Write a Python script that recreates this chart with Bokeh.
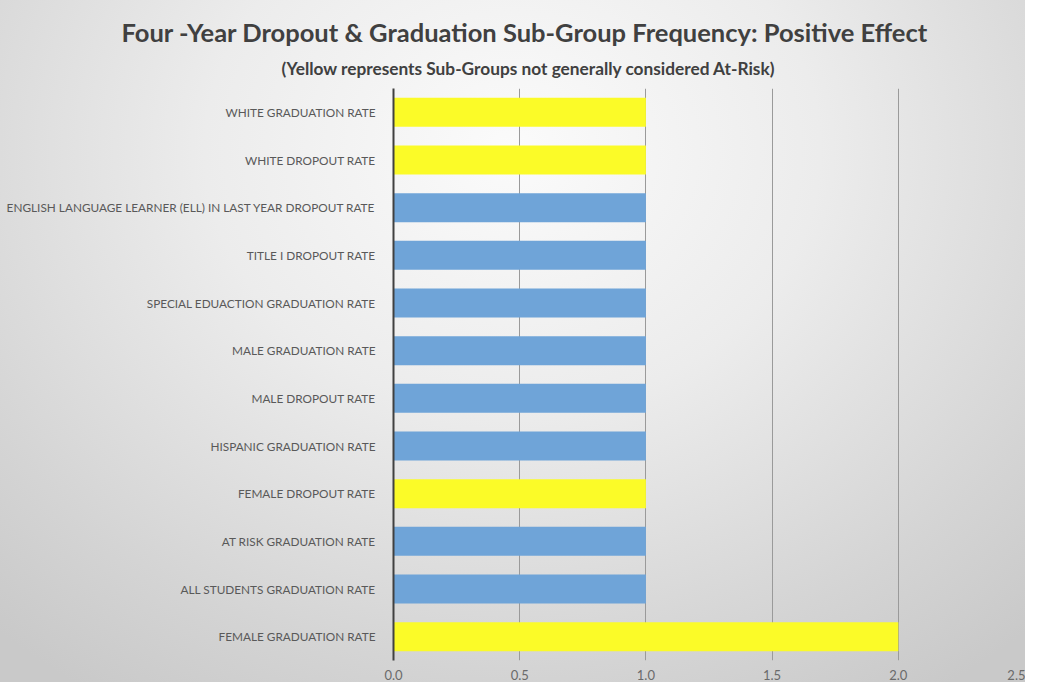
from bokeh.plotting import figure
from bokeh.models import ColumnDataSource, Title, FactorRange, Range1d, FixedTicker, CustomJSTickFormatter
from bokeh.embed import file_html
from bokeh.resources import INLINE

# Data (top to bottom as shown)
categories = [
    "WHITE GRADUATION RATE",
    "WHITE DROPOUT RATE",
    "ENGLISH LANGUAGE LEARNER (ELL) IN LAST YEAR DROPOUT RATE",
    "TITLE I DROPOUT RATE",
    "SPECIAL EDUACTION GRADUATION RATE",
    "MALE GRADUATION RATE",
    "MALE DROPOUT RATE",
    "HISPANIC GRADUATION RATE",
    "FEMALE DROPOUT RATE",
    "AT RISK GRADUATION RATE",
    "ALL STUDENTS GRADUATION RATE",
    "FEMALE GRADUATION RATE",
]
frequency = [1, 1, 1, 1, 1, 1, 1, 1, 1, 1, 1, 2]
not_at_risk = [True, True, False, False, False, False, False, False, True, False, False, True]
x_ticks = [0.0, 0.5, 1.0, 1.5, 2.0, 2.5]

YELLOW = "#fbfb28"
BLUE = "#6fa4d8"
colors = [YELLOW if n else BLUE for n in not_at_risk]

source = ColumnDataSource(dict(cat=categories, val=frequency, color=colors))

FONT = "Lato"

p = figure(
    width=1025, height=682,
    y_range=FactorRange(factors=list(reversed(categories)), range_padding=0),
    x_range=Range1d(0, 2.5),
    output_backend="svg", toolbar_location=None,
    min_border_left=393, min_border_right=1, min_border_top=88, min_border_bottom=22,
    title=None,
)

p.hbar(y="cat", right="val", left=0, height=0.61, color="color", line_color=None,
       source=source)

# Background gradient via CSS (canvas transparent)
p.background_fill_alpha = 0
p.border_fill_alpha = 0
p.outline_line_color = None
p.styles = {"background": "radial-gradient(ellipse 75% 95% at 50% 22%, #fbfbfb 0%, #ececec 40%, #d4d4d4 80%, #c9c9c9 100%)"}

# Grid
p.ygrid.grid_line_color = None
p.xgrid.ticker = FixedTicker(ticks=x_ticks)
p.xgrid.grid_line_color = "#9a9a9a"
p.xgrid.grid_line_width = 1

# X axis
p.xaxis.ticker = FixedTicker(ticks=x_ticks)
p.xaxis.axis_line_color = None
p.xaxis.major_tick_line_color = None
p.xaxis.minor_tick_line_color = None
p.xaxis.major_label_standoff = 3
p.xaxis.major_label_text_font = FONT
p.xaxis.major_label_text_font_size = "13px"
p.xaxis.major_label_text_color = "#6a6a6a"
p.xaxis.formatter = CustomJSTickFormatter(code="return tick.toFixed(1);")

# Y axis
p.yaxis.axis_line_color = "#404040"
p.yaxis.axis_line_width = 2
p.yaxis.major_tick_line_color = None
p.yaxis.minor_tick_line_color = None
p.yaxis.major_label_standoff = 12
p.yaxis.major_label_text_font = FONT
p.yaxis.major_label_text_font_size = "11.8px"
p.yaxis.major_label_text_color = "#595959"

# Titles (subtitle first so it sits closest to the frame)
sub = Title(text="(Yellow represents Sub-Groups not generally considered At-Risk)",
            align="left", offset=-112,
            text_font=FONT, text_font_size="17.3px", text_font_style="bold",
            text_color="#404040", standoff=19)
main = Title(text="Four -Year Dropout & Graduation Sub-Group Frequency: Positive Effect",
             align="left", offset=-272,
             text_font=FONT, text_font_size="25.5px", text_font_style="bold",
             text_color="#404040", standoff=0)
p.add_layout(sub, "above")
p.add_layout(main, "above")

open("out.html", "w").write(file_html(p, INLINE))
